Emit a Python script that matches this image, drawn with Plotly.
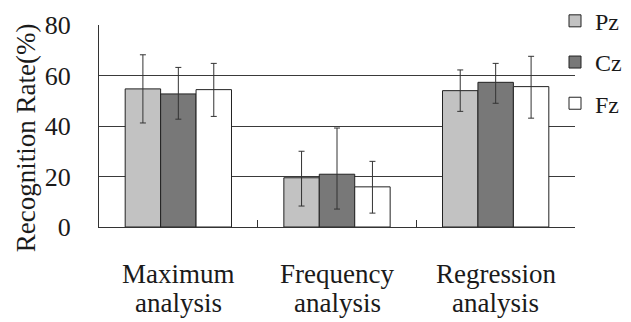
import plotly.graph_objects as go

categories = ["Maximum<br>analysis", "Frequency<br>analysis", "Regression<br>analysis"]
series_names = ["Pz", "Cz", "Fz"]
pz = [54.7, 19.5, 54.0]
cz = [52.7, 20.9, 57.3]
fz = [54.4, 15.9, 55.6]
pz_err_plus = [13.5, 10.5, 8.2]
pz_err_minus = [13.5, 11.2, 8.2]
cz_err_plus = [10.5, 18.3, 7.5]
cz_err_minus = [10.0, 13.8, 8.3]
fz_err_plus = [10.4, 10.1, 12.0]
fz_err_minus = [10.6, 10.4, 12.5]
y_ticks = [0, 20, 40, 60, 80]
y_title = "Recognition Rate(%)"

values = [pz, cz, fz]
eplus = [pz_err_plus, cz_err_plus, fz_err_plus]
eminus = [pz_err_minus, cz_err_minus, fz_err_minus]
colors = ["#c2c2c2", "#787878", "#ffffff"]

FONT = "Liberation Serif"
fig = go.Figure()
for i, name in enumerate(series_names):
    fig.add_trace(go.Bar(
        x=categories, y=values[i], name=name,
        legendgroup=name,
        marker=dict(color=colors[i], line=dict(color="#222222", width=1)),
        error_y=dict(type="data", symmetric=False, array=eplus[i], arrayminus=eminus[i],
                     color="#333333", thickness=1, width=3),
    ))

# two-line category labels drawn at the category positions
for cat in categories:
    lines = cat.split("<br>")
    for j, line in enumerate(lines):
        fig.add_annotation(x=cat, xref="x", y=0, yref="paper", text=line,
                           showarrow=False, yanchor="middle", xanchor="center",
                           yshift=-(47 + 29 * j),
                           font=dict(size=27, family=FONT, color="#1a1a1a"))

# y-axis title
fig.add_annotation(x=-0.153, xref="paper", y=0.44, yref="paper", text=y_title,
                   textangle=-90, showarrow=False, xanchor="center", yanchor="middle",
                   font=dict(size=27, family=FONT, color="#1a1a1a"))

fig.update_layout(
    width=623, height=314,
    margin=dict(l=91, r=56, t=17, b=95, autoexpand=False),
    plot_bgcolor="white", paper_bgcolor="white",
    barmode="group", bargap=0.33, bargroupgap=0,
    font=dict(family=FONT, color="#1a1a1a"),
    showlegend=True,
    legend=dict(x=0.958, y=1.13, xanchor="left", yanchor="top",
                font=dict(size=24, family=FONT), tracegroupgap=7,
                bgcolor="rgba(0,0,0,0)"),
    xaxis=dict(showline=True, linecolor="#333333", linewidth=1, automargin=False,
               ticks="inside", tickson="boundaries", ticklen=7, tickcolor="#333333",
               showticklabels=False, showgrid=False),
    yaxis=dict(range=[0, 80], tickvals=y_ticks, showline=True, linecolor="#333333",
               linewidth=1, showgrid=True, gridcolor="#3a3a3a", gridwidth=1,
               automargin=False, ticklabelstandoff=22,
               tickfont=dict(size=26, family=FONT), ticks="", zeroline=False),
)
fig.write_html("out.html")
